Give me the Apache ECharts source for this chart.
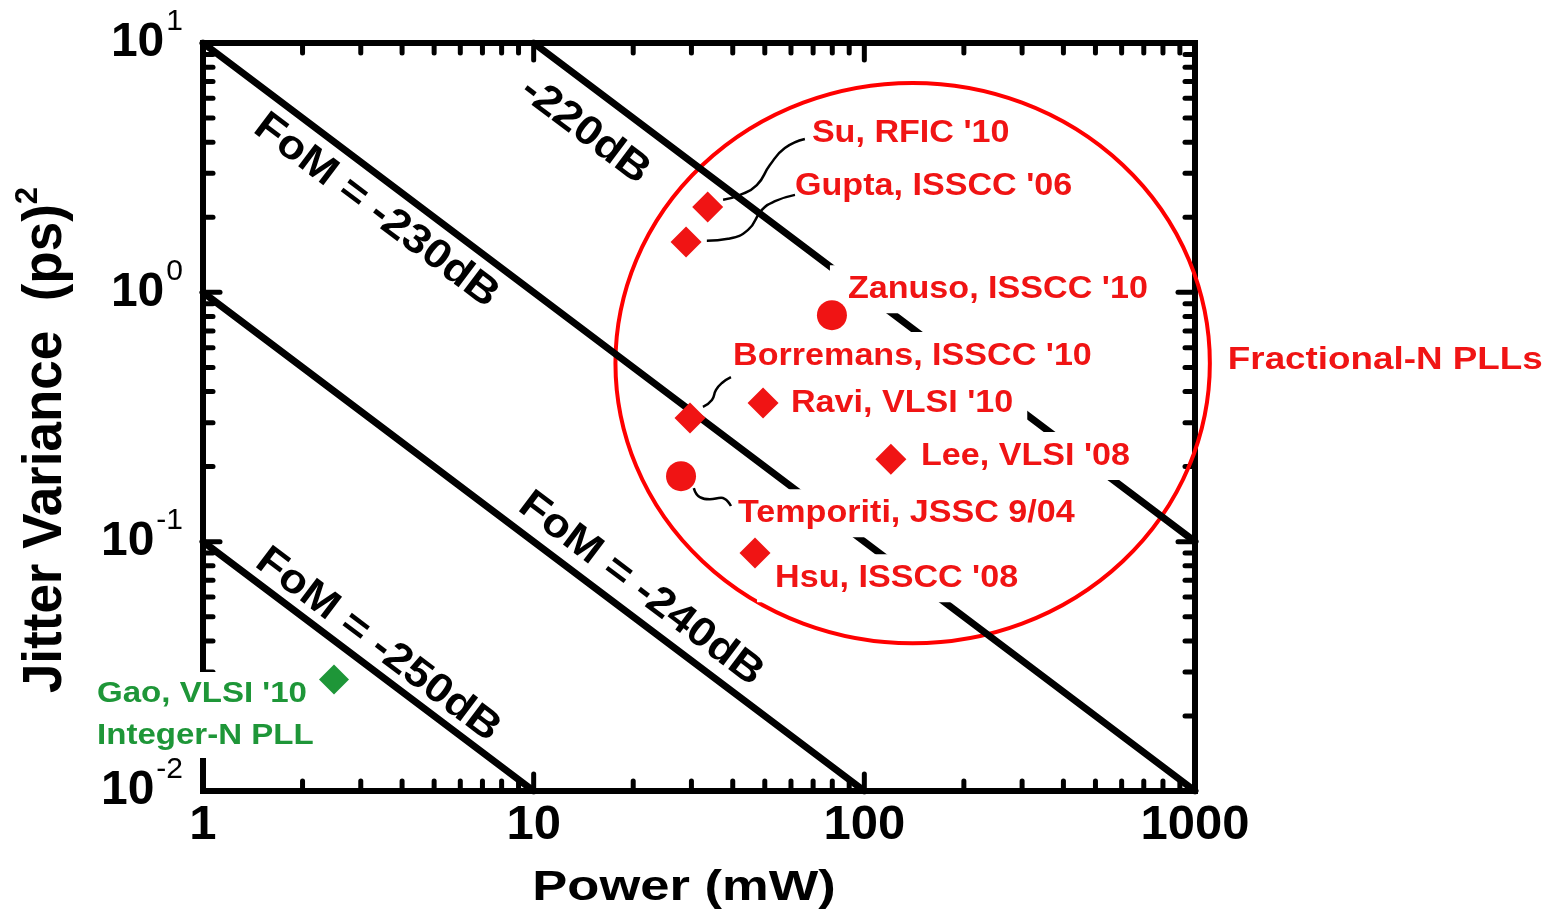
<!DOCTYPE html>
<html><head><meta charset="utf-8">
<script src="https://cdn.jsdelivr.net/npm/echarts@6/dist/echarts.min.js"></script>
<style>html,body{margin:0;padding:0;background:#fff}#c{width:1566px;height:917px}</style>
</head><body><div id="c"></div>
<script>
// ---------------- data ----------------
const fracNames  = ["Su, RFIC '10", "Gupta, ISSCC '06", "Zanuso, ISSCC '10", "Borremans, ISSCC '10", "Ravi, VLSI '10", "Lee, VLSI '08", "Temporiti, JSSC 9/04", "Hsu, ISSCC '08"];
const fracPower  = [33.6, 28.9, 79.8, 29.7, 49.4, 120.3, 27.9, 46.7];
const fracJitter = [2.2, 1.59, 0.81, 0.313, 0.36, 0.214, 0.183, 0.090];
const fracShape  = ['diamond','diamond','circle','diamond','diamond','diamond','circle','diamond'];

const intNames  = ["Gao, VLSI '10", "Integer-N PLL"];
const intPower  = [2.49];
const intJitter = [0.028];

const groupName = "Fractional-N PLLs";

const fomLabelText  = ['-220dB', 'FoM = -230dB', 'FoM = -240dB', 'FoM = -250dB'];
const fomLinePower  = [[10, 1000], [1, 1000], [1, 100], [1, 10]];
const fomLineJitter = [[10, 0.1], [10, 0.01], [1, 0.01], [0.1, 0.01]];

const xMajorTicks = [1, 10, 100, 1000];
const xMinorTicks = [2,3,4,5,6,7,8,9, 20,30,40,50,60,70,80,90, 200,300,400,500,600,700,800,900];
const yMajorTicks = [0.01, 0.1, 1, 10];
const yMinorTicks = [0.02,0.03,0.04,0.05,0.06,0.07,0.08,0.09, 0.2,0.3,0.4,0.5,0.6,0.7,0.8,0.9, 2,3,4,5,6,7,8,9];
const xTickLabels = ['1', '10', '100', '1000'];
const yTickExponents = ['-2', '-1', '0', '1'];

// annotation anchors, in data units (power mW, jitter ps^2)
const fracLabelPower  = [69.4, 61.7, 89.2, 40.1, 60.0, 148.3, 41.5, 53.7];
const fracLabelJitter = [4.32, 2.67, 1.03, 0.555, 0.357, 0.2205, 0.130, 0.0714];
const intLabelPower   = [0.478, 0.478];
const intLabelJitter  = [0.0245, 0.0166];
const groupLabelPower = [1257];
const groupLabelJitter= [0.535];
const fomLabelPower   = [14.3, 3.34, 21.1, 3.38];
const fomLabelJitter  = [4.44, 2.12, 0.0645, 0.0385];

// circle around fractional-N group: centre, right edge power, top edge jitter
const groupCircle = [140, 0.52, 1109, 6.91];

// leader lines
const leaderPower = [
  [37.4, 42.1, 47.3, 51.8, 57.5, 66.1],
  [33.4, 38.7, 44.5, 49.0, 53.7, 61.7],
  [32.5, 34.6, 35.6, 37.1, 39.5],
  [30.5, 31.8, 34.1, 36.9, 39.5]
];
const leaderJitter = [
  [2.35, 2.46, 2.69, 3.24, 3.79, 4.12],
  [1.61, 1.64, 1.78, 2.14, 2.32, 2.46],
  [0.347, 0.370, 0.406, 0.433, 0.457],
  [0.164, 0.151, 0.148, 0.150, 0.139]
];

// ---------------- chart ----------------
const FONT = '"Liberation Sans", Arial, Helvetica, sans-serif';
const RED = '#f01414', RING = '#ff0000', GREEN = '#1e9638';
const X_MIN = 1, X_MAX = 1000, Y_MIN = 0.01, Y_MAX = 10;

const chart = echarts.init(document.getElementById('c'), null, {renderer: 'canvas', width: 1566, height: 917});
const measureCtx = document.createElement('canvas').getContext('2d');

function idxOf(arr, v) {
  return arr.findIndex(t => Math.abs(Math.log10(t) - Math.log10(v)) < 1e-6);
}

const tickData = [];
xMajorTicks.forEach(v => tickData.push([v, Y_MIN, 0]));
xMinorTicks.forEach(v => tickData.push([v, Y_MIN, 1]));
yMajorTicks.forEach(v => tickData.push([X_MIN, v, 2]));
yMinorTicks.forEach(v => tickData.push([X_MIN, v, 3]));

function tickRender(params, api) {
  const t = api.value(2);
  const len = (t === 0 || t === 2) ? 17 : 10;
  const st = {stroke: '#000', lineWidth: 5, lineCap: 'round'};
  if (t < 2) {
    const v = api.value(0);
    const b = api.coord([v, Y_MIN]), tp = api.coord([v, Y_MAX]);
    return {type: 'group', children: [
      {type: 'line', shape: {x1: b[0], y1: b[1], x2: b[0], y2: b[1] - len}, style: st},
      {type: 'line', shape: {x1: tp[0], y1: tp[1], x2: tp[0], y2: tp[1] + len}, style: st}
    ]};
  } else {
    const v = api.value(1);
    const l = api.coord([X_MIN, v]), r = api.coord([X_MAX, v]);
    return {type: 'group', children: [
      {type: 'line', shape: {x1: l[0], y1: l[1], x2: l[0] + len, y2: l[1]}, style: st},
      {type: 'line', shape: {x1: r[0], y1: r[1], x2: r[0] - len, y2: r[1]}, style: st}
    ]};
  }
}

// left-anchored label with a white box behind it (hides lines like the original)
function boxedLabel(p, text, fontSize, fill, scaleX, padL, padR, halfH) {
  const font = `bold ${fontSize}px ${FONT}`;
  measureCtx.font = font;
  const w = measureCtx.measureText(text).width * scaleX;
  return {type: 'group', children: [
    {type: 'rect', shape: {x: p[0] - padL, y: p[1] - halfH, width: w + padL + padR, height: 2 * halfH},
     style: {fill: '#fff'}},
    {type: 'text', x: p[0], y: p[1], scaleX: scaleX,
     style: {text: text, font: font, fill: fill, align: 'left', verticalAlign: 'middle'}}
  ]};
}

const series = [];

// ticks
series.push({type: 'custom', name: 'ticks', data: tickData, encode: {x: 0, y: 1}, renderItem: tickRender, z: 1, silent: true});

// FoM lines
fomLinePower.forEach((xs, i) => {
  series.push({type: 'line', name: 'fom' + i, data: xs.map((x, j) => [x, fomLineJitter[i][j]]),
    symbol: 'none', lineStyle: {color: '#000', width: 7, cap: 'round'}, z: 2, silent: true});
});

// ring
series.push({type: 'custom', name: 'ring', data: [groupCircle], encode: {x: 0, y: 1}, z: 2, silent: true,
  renderItem: function (params, api) {
    const c = api.coord([api.value(0), api.value(1)]);
    const r = api.coord([api.value(2), api.value(1)]);
    const t = api.coord([api.value(0), api.value(3)]);
    const rx = r[0] - c[0], ry = c[1] - t[1];
    const d = `M ${c[0]-rx} ${c[1]} A ${rx} ${ry} 0 1 0 ${c[0]+rx} ${c[1]} A ${rx} ${ry} 0 1 0 ${c[0]-rx} ${c[1]} Z`;
    return {type: 'path', shape: {pathData: d}, style: {fill: 'none', stroke: RING, lineWidth: 4}};
  }});

// labels for fractional-N points
series.push({type: 'custom', name: 'fracLabels', z: 4, silent: true,
  data: fracLabelPower.map((x, i) => [x, fracLabelJitter[i], i]), encode: {x: 0, y: 1},
  renderItem: function (params, api) {
    const p = api.coord([api.value(0), api.value(1)]);
    return boxedLabel(p, fracNames[api.value(2)], 31, RED, 1.1, 18, 14, 24);
  }});
series.push({type: 'custom', name: 'intLabels', z: 4, silent: true,
  data: intLabelPower.map((x, i) => [x, intLabelJitter[i], i]), encode: {x: 0, y: 1},
  renderItem: function (params, api) {
    const p = api.coord([api.value(0), api.value(1)]);
    return boxedLabel(p, intNames[api.value(2)], 29, GREEN, 1.14, 12, 12, 22);
  }});
series.push({type: 'custom', name: 'groupLabel', z: 4, silent: true,
  data: groupLabelPower.map((x, i) => [x, groupLabelJitter[i], i]), encode: {x: 0, y: 1},
  renderItem: function (params, api) {
    const p = api.coord([api.value(0), api.value(1)]);
    return boxedLabel(p, groupName, 32, RED, 1.15, 8, 8, 22);
  }});
series.push({type: 'custom', name: 'fomLabels', z: 4, silent: true,
  data: fomLabelPower.map((x, i) => [x, fomLabelJitter[i], i]), encode: {x: 0, y: 1},
  renderItem: function (params, api) {
    const i = api.value(2);
    const p = api.coord([api.value(0), api.value(1)]);
    const a = api.coord([fomLinePower[i][0], fomLineJitter[i][0]]);
    const b = api.coord([fomLinePower[i][1], fomLineJitter[i][1]]);
    const ang = Math.atan2(b[1] - a[1], b[0] - a[0]);
    return {type: 'text', x: p[0], y: p[1], scaleX: 1.1, rotation: -ang,
      style: {text: fomLabelText[i], font: `bold 41px ${FONT}`, fill: '#000', align: 'center', verticalAlign: 'middle'}};
  }});

// leaders
leaderPower.forEach((xs, i) => {
  series.push({type: 'line', name: 'leader' + i, data: xs.map((x, j) => [x, leaderJitter[i][j]]),
    symbol: 'none', smooth: 0.5, lineStyle: {color: '#000', width: 2.5}, z: 5, silent: true});
});

// markers
series.push({type: 'scatter', name: 'Fractional-N', z: 6,
  data: fracPower.map((x, i) => ({value: [x, fracJitter[i]], symbol: fracShape[i], symbolSize: fracShape[i] === 'circle' ? 30 : 31})),
  itemStyle: {color: RED, opacity: 1}});
series.push({type: 'scatter', name: 'Integer-N', z: 6,
  data: intPower.map((x, i) => [x, intJitter[i]]), symbol: 'diamond', symbolSize: 30,
  itemStyle: {color: GREEN, opacity: 1}});

const option = {
  backgroundColor: '#fff',
  animation: false,
  grid: {left: 203, right: 371, top: 43, bottom: 126, show: true, borderColor: '#000', borderWidth: 6,
         backgroundColor: 'transparent', containLabel: false, outerBoundsMode: 'none'},
  xAxis: {type: 'log', logBase: 10, min: X_MIN, max: X_MAX,
    axisLine: {show: false}, axisTick: {show: false}, splitLine: {show: false}, minorTick: {show: false},
    axisLabel: {fontSize: 49, fontWeight: 'bold', fontFamily: FONT, color: '#000', margin: 10,
      formatter: v => { const k = idxOf(xMajorTicks, v); return k >= 0 ? xTickLabels[k] : ''; }}},
  yAxis: {type: 'log', logBase: 10, min: Y_MIN, max: Y_MAX,
    axisLine: {show: false}, axisTick: {show: false}, splitLine: {show: false}, minorTick: {show: false},
    axisLabel: {margin: 20, color: '#000',
      formatter: v => { const k = idxOf(yMajorTicks, v); return k >= 0 ? `{b|10}{s|${yTickExponents[k]}}` : ''; },
      rich: {
        b: {fontSize: 48, fontWeight: 'bold', fontFamily: FONT, color: '#000', lineHeight: 72},
        s: {fontSize: 30, fontFamily: FONT, color: '#000', lineHeight: 24, verticalAlign: 'top', padding: [0, 0, 0, 2]}
      }}},
  graphic: [
    {type: 'text', x: 684, y: 888, scaleX: 1.25, z: 10,
     style: {text: 'Power (mW)', font: `bold 42px ${FONT}`, fill: '#000', align: 'center', verticalAlign: 'middle'}},
    {type: 'text', x: 46, y: 440, rotation: Math.PI / 2, scaleY: 1.04, z: 10,
     style: {text: '{a|Jitter Variance  (ps)}{s|2}', fill: '#000', align: 'center', verticalAlign: 'middle',
       rich: {a: {font: `bold 53px ${FONT}`, fill: '#000', lineHeight: 66},
              s: {font: `bold 31px ${FONT}`, fill: '#000', lineHeight: 30, verticalAlign: 'top'}}}}
  ],
  series: series
};
chart.setOption(option);
</script>
</body></html>
